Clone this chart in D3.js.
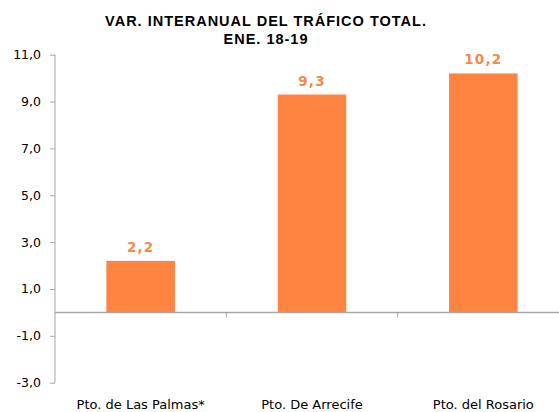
<!DOCTYPE html>
<html><head><meta charset="utf-8">
<script src="https://cdn.jsdelivr.net/npm/d3@7"></script>
<style>body{margin:0;background:#fff}svg{display:block}</style>
</head><body><div id="chart"></div>
<script>
const categories = ["Pto. de Las Palmas*", "Pto. De Arrecife", "Pto. del Rosario"];
const values = [2.2, 9.3, 10.2];
const valueLabels = ["2,2", "9,3", "10,2"];
const yTicks = [-3, -1, 1, 3, 5, 7, 9, 11];
const titleLines = ["VAR. INTERANUAL DEL TRÁFICO TOTAL.", "ENE. 18-19"];

const W = 559, H = 412;
const svg = d3.select("#chart").append("svg").attr("width", W).attr("height", H);

const y = d3.scaleLinear().domain([-3, 11]).range([382.7, 54.7]);
const x = d3.scaleBand().domain(categories).range([55, 569]).paddingInner(0.6).paddingOuter(0.3);
const fmt = d => d.toFixed(1).replace(".", ",");

// title
svg.append("text").attr("x", 266).attr("text-anchor", "middle")
  .style("font-family", "'Liberation Sans', Arial, sans-serif").style("font-weight", "bold")
  .style("font-size", "14.5px").attr("fill", "#000")
  .selectAll("tspan").data(titleLines).join("tspan")
  .attr("x", 266).attr("y", (d, i) => 26 + i * 18).style("letter-spacing", "1px").text(d => d);

// bars
svg.append("g").selectAll("rect").data(values).join("rect")
  .attr("x", (d, i) => x(categories[i])).attr("width", x.bandwidth())
  .attr("y", d => y(Math.max(0, d))).attr("height", d => Math.abs(y(d) - y(0)))
  .attr("fill", "#FF8442");

// y axis
const yAxis = d3.axisLeft(y).tickValues(yTicks).tickFormat(fmt).tickSize(5).tickPadding(9);
const gy = svg.append("g").attr("transform", "translate(55,0)").call(yAxis);
gy.select(".domain").attr("stroke", "#a6a6a6").attr("d", `M0,${y(-3)}V${y(11)}`);
gy.selectAll(".tick line").attr("stroke", "#a6a6a6");
gy.selectAll(".tick text").style("font-family", "'DejaVu Sans', Verdana, sans-serif").style("font-size", "12.5px").attr("fill", "#000");

// x axis at zero
const xAxis = d3.axisBottom(x).tickSize(0).tickFormat(d => d);
const gx = svg.append("g").attr("transform", `translate(0,${y(0)})`).call(xAxis);
gx.select(".domain").attr("stroke", "#a6a6a6").attr("stroke-width", 1.5).attr("d", `M55,0H559`);
gx.selectAll(".tick text").attr("y", y(-3) - y(0) + 26).attr("dy", 0)
  .style("font-family", "'DejaVu Sans', Verdana, sans-serif").style("font-size", "13px").attr("fill", "#000");
// category separators
const seps = categories.slice(1).map(c => x(c) - x.step() * x.paddingInner() / 2);
gx.selectAll(".sep").data(seps).join("line").attr("class", "sep")
  .attr("x1", d => d).attr("x2", d => d).attr("y1", 0).attr("y2", 5).attr("stroke", "#a6a6a6");

// value labels
svg.append("g").selectAll("text").data(values).join("text")
  .attr("x", (d, i) => x(categories[i]) + x.bandwidth() / 2).attr("y", d => y(d) - 9)
  .attr("text-anchor", "middle").style("font-family", "'DejaVu Sans', Verdana, sans-serif")
  .style("font-weight", "bold").style("font-size", "13.5px").style("letter-spacing", "1.2px").attr("fill", "#F58A4C")
  .text((d, i) => valueLabels[i]);
</script></body></html>
